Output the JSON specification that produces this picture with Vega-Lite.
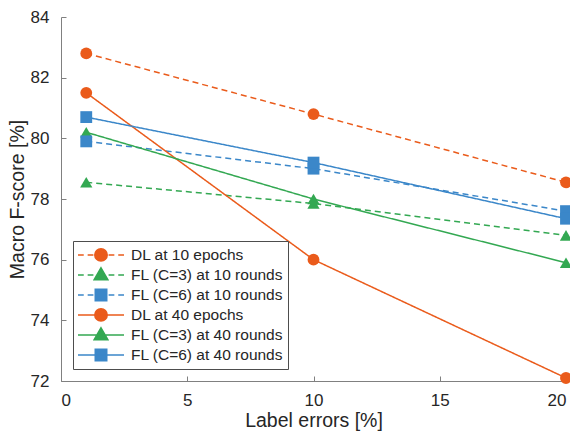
{
  "$schema": "https://vega.github.io/schema/vega-lite/v6.json",
  "width": 505,
  "height": 364,
  "autosize": "none",
  "padding": {"left": 61, "top": 17, "right": 4, "bottom": 55},
  "background": "white",
  "config": {
    "view": {"stroke": null},
    "font": "Liberation Sans",
    "axis": {
      "grid": false,
      "domainColor": "#808080",
      "domainWidth": 1,
      "tickColor": "#808080",
      "tickSize": -5,
      "labelFont": "Liberation Sans",
      "labelFontSize": 17,
      "labelColor": "#262626",
      "titleFont": "Liberation Sans",
      "titleFontSize": 19.5,
      "titleFontWeight": "normal",
      "titleColor": "#262626"
    },
    "legend": {"symbolFillColor": "white", "symbolStrokeColor": "black", "symbolOpacity": 1}
  },
  "data": {
    "values": [
      {"series": "DL at 10 epochs", "x": 1, "y": 82.8},
      {"series": "DL at 10 epochs", "x": 10, "y": 80.8},
      {"series": "DL at 10 epochs", "x": 20, "y": 78.55},
      {"series": "FL (C=3) at 10 rounds", "x": 1, "y": 78.55},
      {"series": "FL (C=3) at 10 rounds", "x": 10, "y": 77.85},
      {"series": "FL (C=3) at 10 rounds", "x": 20, "y": 76.8},
      {"series": "FL (C=6) at 10 rounds", "x": 1, "y": 79.9},
      {"series": "FL (C=6) at 10 rounds", "x": 10, "y": 79.0},
      {"series": "FL (C=6) at 10 rounds", "x": 20, "y": 77.6},
      {"series": "DL at 40 epochs", "x": 1, "y": 81.5},
      {"series": "DL at 40 epochs", "x": 10, "y": 76.0},
      {"series": "DL at 40 epochs", "x": 20, "y": 72.1},
      {"series": "FL (C=3) at 40 rounds", "x": 1, "y": 80.2},
      {"series": "FL (C=3) at 40 rounds", "x": 10, "y": 78.0},
      {"series": "FL (C=3) at 40 rounds", "x": 20, "y": 75.9},
      {"series": "FL (C=6) at 40 rounds", "x": 1, "y": 80.7},
      {"series": "FL (C=6) at 40 rounds", "x": 10, "y": 79.2},
      {"series": "FL (C=6) at 40 rounds", "x": 20, "y": 77.35}
    ]
  },
  "encoding": {
    "x": {"field": "x", "type": "quantitative", "scale": {"domain": [0, 20], "nice": false, "zero": false},
      "axis": {"title": "Label errors [%]", "values": [0, 5, 10, 15, 20], "labelPadding": 16, "titlePadding": 3}},
    "y": {"field": "y", "type": "quantitative", "scale": {"domain": [72, 84], "nice": false, "zero": false},
      "axis": {"title": "Macro F-score [%]", "values": [72, 74, 76, 78, 80, 82, 84], "labelPadding": 17, "titlePadding": 3}}
  },
  "layer": [
    {
      "mark": {"type": "line", "strokeWidth": 1.5},
      "encoding": {
        "color": {"field": "series", "type": "nominal", "legend": null,
          "scale": {"domain": ["DL at 10 epochs", "DL at 40 epochs", "FL (C=3) at 10 rounds", "FL (C=3) at 40 rounds", "FL (C=6) at 10 rounds", "FL (C=6) at 40 rounds"],
            "range": ["#EA5B1B", "#EA5B1B", "#33A852", "#33A852", "#3B87C9", "#3B87C9"]}},
        "strokeDash": {"field": "series", "type": "nominal", "legend": null,
          "scale": {"domain": ["DL at 10 epochs", "DL at 40 epochs", "FL (C=3) at 10 rounds", "FL (C=3) at 40 rounds", "FL (C=6) at 10 rounds", "FL (C=6) at 40 rounds"],
            "range": [[6, 4], [1, 0], [6, 4], [1, 0], [6, 4], [1, 0]]}}
      }
    },
    {
      "transform": [{"filter": "indexof(datum.series, 'DL') == 0"}],
      "mark": {"type": "point", "shape": "circle", "filled": true, "opacity": 1, "size": 140},
      "encoding": {"color": {"field": "series", "type": "nominal", "legend": null}}
    },
    {
      "transform": [{"filter": "indexof(datum.series, 'C=3') >= 0"}],
      "mark": {"type": "point", "shape": "triangle-up", "filled": true, "opacity": 1, "size": 150},
      "encoding": {"color": {"field": "series", "type": "nominal", "legend": null}}
    },
    {
      "transform": [{"filter": "indexof(datum.series, 'C=6') >= 0"}],
      "mark": {"type": "point", "shape": "square", "filled": true, "opacity": 1, "size": 140},
      "encoding": {"color": {"field": "series", "type": "nominal", "legend": null}}
    },
    {
      "transform": [{"filter": "datum.x < 0"}],
      "mark": {"type": "point", "filled": true, "opacity": 1, "strokeWidth": 1.5},
      "encoding": {
        "fill": {"field": "series", "type": "nominal",
          "scale": {"domain": ["DL at 10 epochs", "FL (C=3) at 10 rounds", "FL (C=6) at 10 rounds", "DL at 40 epochs", "FL (C=3) at 40 rounds", "FL (C=6) at 40 rounds"],
            "range": ["#EA5B1B", "#33A852", "#3B87C9", "#EA5B1B", "#33A852", "#3B87C9"]},
          "legend": {"title": null, "orient": "bottom-left", "offset": 12, "padding": 4, "strokeColor": "#4d4d4d", "fillColor": "white",
            "symbolSize": 2116, "symbolStrokeWidth": 1.5, "labelFont": "Liberation Sans", "labelFontSize": 15.5, "labelColor": "#262626",
            "labelOffset": 6, "clipHeight": 19.8, "rowPadding": 0, "labelLimit": 300}},
        "stroke": {"field": "series", "type": "nominal",
          "scale": {"domain": ["DL at 10 epochs", "FL (C=3) at 10 rounds", "FL (C=6) at 10 rounds", "DL at 40 epochs", "FL (C=3) at 40 rounds", "FL (C=6) at 40 rounds"],
            "range": ["#EA5B1B", "#33A852", "#3B87C9", "#EA5B1B", "#33A852", "#3B87C9"]},
          "legend": {"title": null, "orient": "bottom-left", "offset": 12, "padding": 4, "strokeColor": "#4d4d4d", "fillColor": "white",
            "symbolSize": 2116, "symbolStrokeWidth": 1.5, "labelFont": "Liberation Sans", "labelFontSize": 15.5, "labelColor": "#262626",
            "labelOffset": 6, "clipHeight": 19.8, "rowPadding": 0, "labelLimit": 300}},
        "shape": {"field": "series", "type": "nominal",
          "scale": {"domain": ["DL at 10 epochs", "FL (C=3) at 10 rounds", "FL (C=6) at 10 rounds", "DL at 40 epochs", "FL (C=3) at 40 rounds", "FL (C=6) at 40 rounds"],
            "range": [
              "M-1,0H-0.75M-0.58,0H-0.33M0.33,0H0.58M0.75,0H1M0.27,0A0.27,0.27 0 1,1 -0.27,0A0.27,0.27 0 1,1 0.27,0Z",
              "M-1,0H-0.75M-0.58,0H-0.33M0.33,0H0.58M0.75,0H1M0,-0.31L0.3,0.21L-0.3,0.21Z",
              "M-1,0H-0.75M-0.58,0H-0.33M0.33,0H0.58M0.75,0H1M-0.25,-0.25H0.25V0.25H-0.25Z",
              "M-1,0H1M0.27,0A0.27,0.27 0 1,1 -0.27,0A0.27,0.27 0 1,1 0.27,0Z",
              "M-1,0H1M0,-0.31L0.3,0.21L-0.3,0.21Z",
              "M-1,0H1M-0.25,-0.25H0.25V0.25H-0.25Z"
            ]},
          "legend": {"title": null, "orient": "bottom-left", "offset": 12, "padding": 4, "strokeColor": "#4d4d4d", "fillColor": "white",
            "symbolSize": 2116, "symbolStrokeWidth": 1.5, "labelFont": "Liberation Sans", "labelFontSize": 15.5, "labelColor": "#262626",
            "labelOffset": 6, "clipHeight": 19.8, "rowPadding": 0, "labelLimit": 300}}
      }
    }
  ]
}
